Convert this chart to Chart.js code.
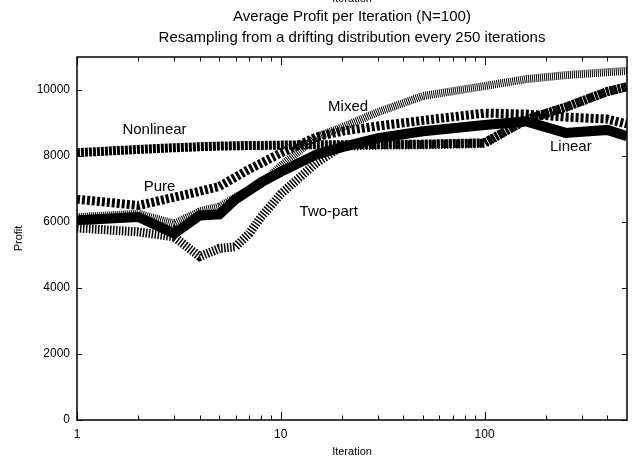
<!DOCTYPE html>
<html><head><meta charset="utf-8">
<script src="https://cdn.jsdelivr.net/npm/chart.js@4/dist/chart.umd.min.js"></script>
<style>html,body{margin:0;padding:0;background:#fff;} #wrap{width:639px;height:459px;}</style>
</head><body><div id="wrap"><canvas id="c" width="639" height="459"></canvas></div>
<script>
// ---- data ----
const iterations = [1,2,3,4,5,6,7,8,10,15,20,30,50,100,160,250,400,500];
const linearProfit    = [6050,6150,5650,6200,6230,6690,6960,7200,7520,8050,8270,8540,8750,8940,9050,8700,8790,8600];
const pureProfit      = [6690,6500,6750,6930,7080,7360,7600,7780,8090,8580,8750,8910,9080,9300,9270,9180,9120,8970];
const nonlinearProfit = [8100,8200,8250,8280,8300,8310,8320,8320,8330,8340,8340,8350,8360,8400,9100,9480,9950,10100];
const twoPartProfit   = [5820,5700,5550,4950,5200,5250,5650,6150,6850,7800,8300,8330,8340,8380,9100,9480,9950,10100];
const mixedProfit     = [6150,6250,5950,6320,6470,6750,6950,7150,7700,8580,8870,9330,9820,10120,10330,10450,10540,10580];
const xTickLabels = [1,10,100];
const xMinorTicks = [2,3,4,5,6,7,8,9,20,30,40,50,60,70,80,90,200,300,400];
const yTickValues = [0,2000,4000,6000,8000,10000];
const titleLines = ['Average Profit per Iteration (N=100)','Resampling from a drifting distribution every 250 iterations'];
const xTitle = 'Iteration';
const yTitle = 'Profit';

// ---- label anchors (data coordinates) ----
const seriesLabels = [
  {text:'Nonlinear', it:2.40, v:8663},
  {text:'Pure',      it:2.54, v:6930},
  {text:'Mixed',     it:21.4, v:9362},
  {text:'Two-part',  it:17.2, v:6170},
  {text:'Linear',    it:265,  v:8146}
];

const FONT = '"Liberation Sans", Arial, Helvetica, sans-serif';
const pts = arr => arr.map((v,i)=>({x:iterations[i], y:v}));

const datasets = [
  {label:'Linear',    data:pts(linearProfit),    borderWidth:10, borderDash:[],      order:0},
  {label:'Pure',      data:pts(pureProfit),      borderWidth:9,  borderDash:[3,2],   order:1},
  {label:'Nonlinear', data:pts(nonlinearProfit), borderWidth:9,  borderDash:[3,1],   order:2},
  {label:'Two-part',  data:pts(twoPartProfit),   borderWidth:9,  borderDash:[1.5,1.5], order:3},
  {label:'Mixed',     data:pts(mixedProfit),     borderWidth:8,  borderDash:[1,1],   order:4}
].map(d => Object.assign({borderColor:'#000', backgroundColor:'#000', pointRadius:0, tension:0, fill:false, borderCapStyle:'butt', borderJoinStyle:'miter'}, d));

const decor = {
  id:'decor',
  afterDraw(chart){
    const ctx = chart.ctx, a = chart.chartArea;
    const xs = chart.scales.x, ys = chart.scales.y;
    ctx.save();
    ctx.strokeStyle = '#000';
    ctx.lineWidth = 1.5;
    ctx.strokeRect(a.left, a.top, a.right-a.left, a.bottom-a.top);
    ctx.lineWidth = 1;
    ctx.beginPath();
    const xt = (v,len)=>{ const p = Math.round(xs.getPixelForValue(v))+0.5;
      ctx.moveTo(p,a.bottom); ctx.lineTo(p,a.bottom-len);
      ctx.moveTo(p,a.top); ctx.lineTo(p,a.top+len); };
    xTickLabels.forEach(v=>xt(v,8));
    xMinorTicks.forEach(v=>xt(v,4.5));
    yTickValues.forEach(v=>{ const p = Math.round(ys.getPixelForValue(v))+0.5;
      ctx.moveTo(a.left,p); ctx.lineTo(a.left+5,p);
      ctx.moveTo(a.right,p); ctx.lineTo(a.right-5,p); });
    ctx.stroke();

    const cx = (a.left+a.right)/2;
    ctx.fillStyle = '#000';
    ctx.textAlign = 'center';
    ctx.textBaseline = 'alphabetic';
    ctx.font = '15px ' + FONT;
    ctx.fillText(titleLines[0], cx, 21);
    ctx.fillText(titleLines[1], cx, 42);
    ctx.font = '11px ' + FONT;
    ctx.fillText(xTitle, cx, 2);
    ctx.fillText(xTitle, cx, 455);
    ctx.save();
    ctx.translate(22, (a.top+a.bottom)/2);
    ctx.rotate(-Math.PI/2);
    ctx.fillText(yTitle, 0, 0);
    ctx.restore();

    ctx.font = '15px ' + FONT;
    seriesLabels.forEach(l=>{
      ctx.fillText(l.text, xs.getPixelForValue(l.it), ys.getPixelForValue(l.v));
    });
    ctx.restore();
  }
};

new Chart(document.getElementById('c'), {
  type:'line',
  data:{datasets},
  options:{
    responsive:false, animation:false, devicePixelRatio:1,
    layout:{padding:{top:57, right:12, left:0, bottom:0}},
    plugins:{legend:{display:false}, tooltip:{enabled:false}, title:{display:false}},
    scales:{
      x:{type:'logarithmic', min:1, max:500,
         grid:{display:false, drawTicks:false}, border:{display:false},
         afterBuildTicks:s=>{ s.ticks = xTickLabels.map(v=>({value:v})); },
         afterFit:s=>{ s.height = 39; },
         ticks:{autoSkip:false, maxRotation:0, padding:7, color:'#000', font:{family:FONT, size:12},
                callback:v=>String(v)}},
      y:{type:'linear', min:0, max:11000,
         grid:{display:false, drawTicks:false}, border:{display:false},
         afterBuildTicks:s=>{ s.ticks = yTickValues.map(v=>({value:v})); },
         afterFit:s=>{ s.width = 77; },
         ticks:{padding:7, color:'#000', font:{family:FONT, size:12}, callback:v=>String(v)}}
    }
  },
  plugins:[decor]
});
</script></body></html>
